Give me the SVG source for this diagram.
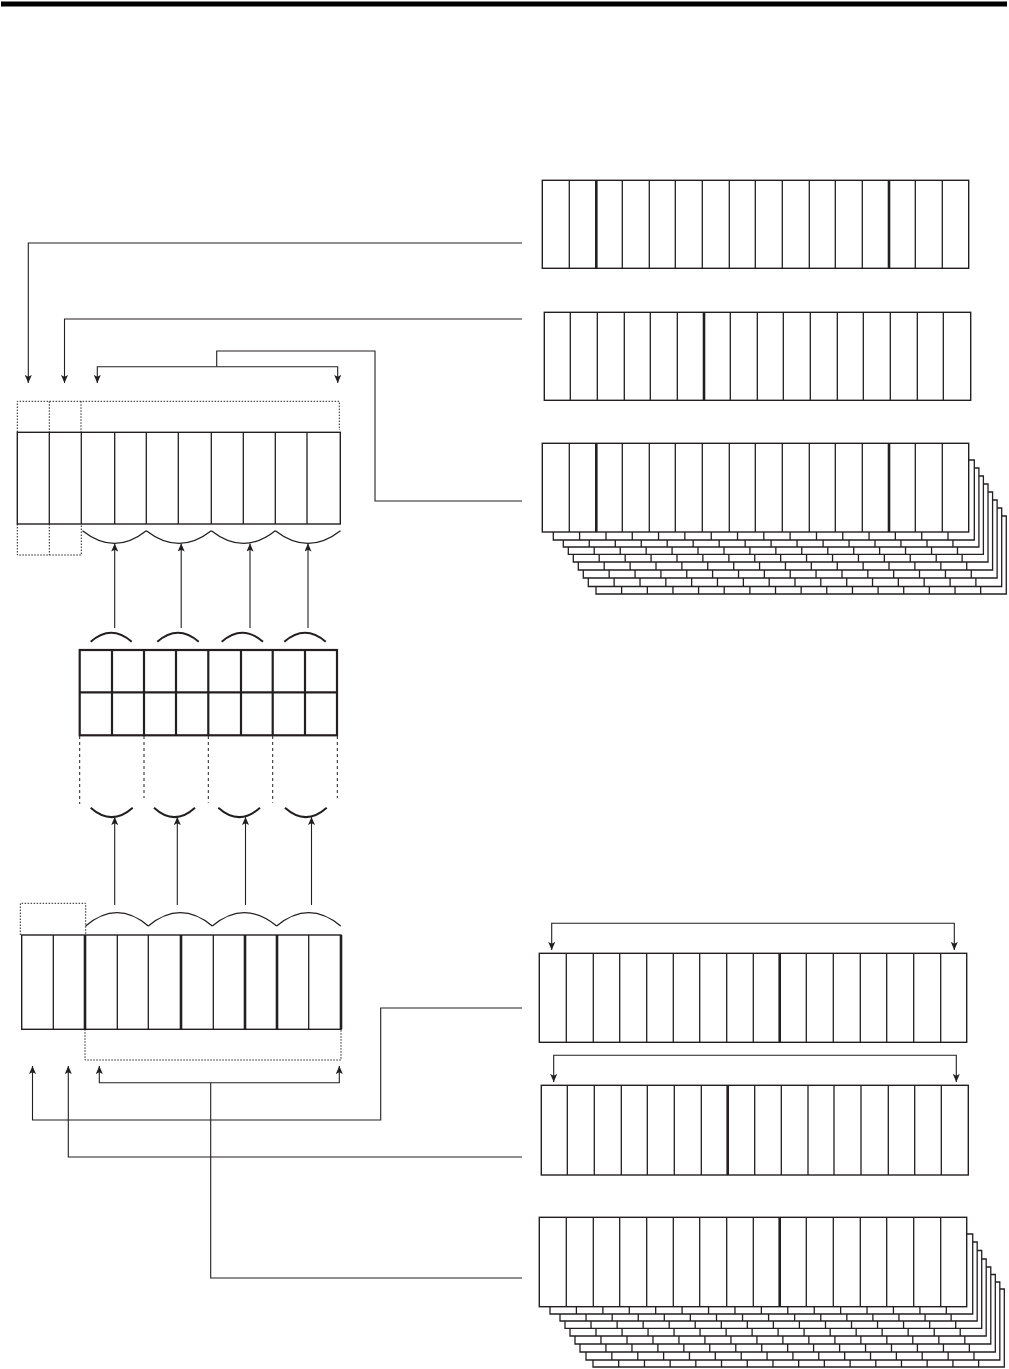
<svg xmlns="http://www.w3.org/2000/svg" xmlns:xlink="http://www.w3.org/1999/xlink" width="1009" height="1369" viewBox="0 0 1009 1369">
<style>
.reg{fill:#fff;stroke:#231f20;stroke-width:1.4}
.dv{stroke:#231f20;stroke-width:1.3;fill:none}
.tk{stroke:#231f20;stroke-width:2.6;fill:none}
.mid{stroke:#231f20;stroke-width:2.2;fill:none}
.con{stroke:#231f20;stroke-width:1.1;fill:none}
.arr{stroke:#231f20;stroke-width:1.1;fill:none;marker-end:url(#ah)}
.dot{stroke:#231f20;stroke-width:1;fill:none;stroke-dasharray:1.5 1.5}
.dash{stroke:#231f20;stroke-width:1;fill:none;stroke-dasharray:3 3}
.arc{stroke:#231f20;stroke-width:1.3;fill:none}
.arc2{stroke:#231f20;stroke-width:2;fill:none}
</style>
<defs>
<marker id="ah" viewBox="0 0 8 7" refX="8" refY="3.5" markerWidth="8" markerHeight="7" markerUnits="userSpaceOnUse" orient="auto">
<path d="M0,0 L8,3.5 L0,7 L1.8,3.5 z" fill="#231f20"/>
</marker>
<g id="cells">
<rect x="0" y="0" width="426" height="88" fill="#fff" stroke="#231f20" stroke-width="1.3" vector-effect="non-scaling-stroke"/>
<path d="M26.6,0V88M53.3,0V88M79.9,0V88M106.5,0V88M133.1,0V88M159.8,0V88M186.4,0V88M213,0V88M239.6,0V88M266.3,0V88M292.9,0V88M319.5,0V88M346.1,0V88M372.8,0V88M399.4,0V88" stroke="#231f20" stroke-width="1.3" fill="none" vector-effect="non-scaling-stroke"/>
</g>
</defs>
<rect x="0" y="0" width="1009" height="1369" fill="#fff"/>
<rect x="1" y="1.5" width="1006" height="5" fill="#000"/>

<g id="connectors">
<polyline class="arr" points="522,243 28.3,243 28.3,383"/>
<polyline class="arr" points="522,319 64.5,319 64.5,383"/>
<polyline class="con" points="522,501 375,501 375,351 216.7,351 216.7,366.7"/>
<polyline class="arr" points="216.7,366.7 97.3,366.7 97.3,383"/>
<polyline class="arr" points="216.7,366.7 337.7,366.7 337.7,383"/>
<line class="arr" x1="114.7" y1="628" x2="114.7" y2="543.5"/>
<line class="arr" x1="181.2" y1="628" x2="181.2" y2="543.5"/>
<line class="arr" x1="250" y1="628" x2="250" y2="543.5"/>
<line class="arr" x1="308" y1="628" x2="308" y2="543.5"/>
<line class="arr" x1="114.7" y1="905" x2="114.7" y2="817"/>
<line class="arr" x1="177.3" y1="905" x2="177.3" y2="817"/>
<line class="arr" x1="245.5" y1="905" x2="245.5" y2="817"/>
<line class="arr" x1="311.5" y1="905" x2="311.5" y2="817"/>
<polyline class="arr" points="522,1008 380.7,1008 380.7,1120 32.5,1120 32.5,1066"/>
<polyline class="arr" points="522,1157 68.3,1157 68.3,1066"/>
<polyline class="con" points="522,1278 210.7,1278 210.7,1082.7"/>
<polyline class="arr" points="210.7,1082.7 99.3,1082.7 99.3,1066"/>
<polyline class="arr" points="210.7,1082.7 339.3,1082.7 339.3,1066"/>
<polyline class="arr" points="753,923.3 551.7,923.3 551.7,950"/>
<polyline class="arr" points="753,923.3 954.3,923.3 954.3,950"/>
<polyline class="arr" points="755,1055.3 553.7,1055.3 553.7,1082"/>
<polyline class="arr" points="755,1055.3 956.3,1055.3 956.3,1082"/>
</g>

<g id="reg-left-top">
<path class="dot" d="M17.3,432V401.3H339.3V430M49.3,401.3V432M81,401.3V432"/>
<path class="dot" d="M17.3,524V555H81.3V524M49.3,524V555"/>
<rect class="reg" x="17.3" y="432.3" width="323" height="91.7"/>
<path class="dv" d="M49.3,432.3V524M81.3,432.3V524M114.7,432.3V524M146.3,432.3V524M178.3,432.3V524M211.3,432.3V524M243.3,432.3V524M275.3,432.3V524M307,432.3V524"/>
<path class="arc" d="M82.5,530.7 Q114.5,556 146.3,530.7 M146.3,530.7 Q179,556 211.3,530.7 M211.3,530.7 Q243.5,556 275.3,530.7 M275.3,530.7 Q308,556 340.5,530.7"/>
</g>

<g id="reg-middle">
<path class="arc2" d="M90.7,641.7 Q111.2,623.7 131.7,641.7 M157.3,641.7 Q178,623.7 198.7,641.7 M221.7,641.7 Q242.3,623.7 263,641.7 M284.3,641.7 Q305,623.7 325.7,641.7"/>
<rect x="79.7" y="650" width="257.3" height="85.3" fill="#fff" class="mid"/>
<path class="mid" d="M79.7,692.3H337M112,650V735.3M144,650V735.3M176,650V735.3M208.3,650V735.3M241,650V735.3M272.7,650V735.3M305,650V735.3"/>
<path class="dash" d="M79.7,736V804M144,736V798M208.3,736V802.7M272.7,736V802.7M337.3,736V798"/>
<path class="arc2" d="M90.7,807.7 Q111.7,826.5 132.7,807.7 M154,807.7 Q174.5,826.5 195,807.7 M218.3,807.7 Q239.2,826.5 260,807.7 M285,807.7 Q305.8,826.5 326.7,807.7"/>
</g>

<g id="reg-left-bottom">
<path class="arc" d="M85.7,926 Q117,899.4 148.3,926 M148.3,926 Q180.3,899.4 212.3,926 M212.3,926 Q244.5,899.4 276.7,926 M276.7,926 Q308.7,899.4 340.7,926"/>
<path class="dot" d="M20.3,935V903.3H85.7V935"/>
<path class="dot" d="M85,1029.3V1060H341V1029.3"/>
<rect class="reg" x="21.7" y="935" width="319.3" height="94.3"/>
<path class="dv" d="M53.3,935V1029.3M117.3,935V1029.3M148.3,935V1029.3M213.3,935V1029.3M308.7,935V1029.3"/>
<path class="tk" d="M85,935V1029.3M181,935V1029.3M245,935V1029.3M277,935V1029.3M341,935V1029.3"/>
</g>

<g id="reg-r1">
<rect class="reg" x="542.3" y="180.3" width="426.4" height="88"/>
<path class="dv" d="M569.3,180.3V268.3M622.3,180.3V268.3M649.3,180.3V268.3M675.3,180.3V268.3M702.3,180.3V268.3M729.3,180.3V268.3M755.3,180.3V268.3M782.3,180.3V268.3M809.3,180.3V268.3M835.3,180.3V268.3M862.3,180.3V268.3M915.3,180.3V268.3M942.3,180.3V268.3"/>
<path class="tk" d="M596.3,180.3V268.3M889,180.3V268.3"/>
</g>

<g id="reg-r2">
<rect class="reg" x="544.3" y="312.3" width="426.4" height="88"/>
<path class="dv" d="M570.3,312.3V400.3M597.3,312.3V400.3M624.3,312.3V400.3M650.3,312.3V400.3M677.3,312.3V400.3M730.3,312.3V400.3M757.3,312.3V400.3M783.3,312.3V400.3M810.3,312.3V400.3M837.3,312.3V400.3M863.3,312.3V400.3M890.3,312.3V400.3M917.3,312.3V400.3M943.3,312.3V400.3"/>
<path class="tk" d="M704,312.3V400.3"/>
</g>

<g id="reg-r3-stack">
<use xlink:href="#cells" href="#cells" transform="translate(596,516) scale(0.9631,0.8864)"/>
<use xlink:href="#cells" href="#cells" transform="translate(588.3,508) scale(0.9704,0.892)"/>
<use xlink:href="#cells" href="#cells" transform="translate(583.3,500) scale(0.9714,0.8864)"/>
<use xlink:href="#cells" href="#cells" transform="translate(578.3,492) scale(0.9725,0.8864)"/>
<use xlink:href="#cells" href="#cells" transform="translate(573.3,484) scale(0.9735,0.8864)"/>
<use xlink:href="#cells" href="#cells" transform="translate(568.3,476) scale(0.9744,0.8898)"/>
<use xlink:href="#cells" href="#cells" transform="translate(563.3,468) scale(0.9756,0.8977)"/>
<use xlink:href="#cells" href="#cells" transform="translate(553.3,460) scale(0.9883,0.909)"/>
<rect class="reg" x="542.3" y="443.3" width="426.4" height="88.7"/>
<path class="dv" d="M569.3,443.3V532M622.3,443.3V532M649.3,443.3V532M675.3,443.3V532M702.3,443.3V532M729.3,443.3V532M755.3,443.3V532M782.3,443.3V532M809.3,443.3V532M835.3,443.3V532M862.3,443.3V532M915.3,443.3V532M942.3,443.3V532"/>
<path class="tk" d="M596.3,443.3V532M889,443.3V532"/>
</g>

<g id="reg-r4">
<rect class="reg" x="539.3" y="953.3" width="427.4" height="89"/>
<path class="dv" d="M566.3,953.3V1042.3M593.3,953.3V1042.3M619.7,953.3V1042.3M646.7,953.3V1042.3M673.3,953.3V1042.3M699.7,953.3V1042.3M726.7,953.3V1042.3M753.3,953.3V1042.3M806.3,953.3V1042.3M833.3,953.3V1042.3M860.3,953.3V1042.3M886.7,953.3V1042.3M913.7,953.3V1042.3M940.7,953.3V1042.3"/>
<path class="tk" d="M779.7,953.3V1042.3"/>
</g>

<g id="reg-r5">
<rect class="reg" x="541.3" y="1085.3" width="427" height="89.7"/>
<path class="dv" d="M567.3,1085.3V1175M594.3,1085.3V1175M621.3,1085.3V1175M647.3,1085.3V1175M674.3,1085.3V1175M701.3,1085.3V1175M754.7,1085.3V1175M781.3,1085.3V1175M808,1085.3V1175M834,1085.3V1175M861,1085.3V1175M888.3,1085.3V1175M914.7,1085.3V1175M941.3,1085.3V1175"/>
<path class="tk" d="M727.7,1085.3V1175"/>
</g>

<g id="reg-r6-stack">
<use xlink:href="#cells" href="#cells" transform="translate(593,1289) scale(0.9655,0.8864)"/>
<use xlink:href="#cells" href="#cells" transform="translate(586,1282) scale(0.9714,0.8864)"/>
<use xlink:href="#cells" href="#cells" transform="translate(580,1274.5) scale(0.9749,0.8807)"/>
<use xlink:href="#cells" href="#cells" transform="translate(575,1267) scale(0.976,0.875)"/>
<use xlink:href="#cells" href="#cells" transform="translate(570,1259) scale(0.977,0.875)"/>
<use xlink:href="#cells" href="#cells" transform="translate(565,1250.5) scale(0.9782,0.884)"/>
<use xlink:href="#cells" href="#cells" transform="translate(560,1242) scale(0.9793,0.8977)"/>
<use xlink:href="#cells" href="#cells" transform="translate(550,1234) scale(0.9923,0.909)"/>
<rect class="reg" x="539.3" y="1217.3" width="427.4" height="89.4"/>
<path class="dv" d="M566.3,1217.3V1306.7M593.3,1217.3V1306.7M619.7,1217.3V1306.7M646.7,1217.3V1306.7M673.3,1217.3V1306.7M699.7,1217.3V1306.7M726.7,1217.3V1306.7M753.3,1217.3V1306.7M806.3,1217.3V1306.7M833.3,1217.3V1306.7M860.3,1217.3V1306.7M886.7,1217.3V1306.7M913.7,1217.3V1306.7M940.7,1217.3V1306.7"/>
<path class="tk" d="M779.7,1217.3V1306.7"/>
</g>
</svg>
